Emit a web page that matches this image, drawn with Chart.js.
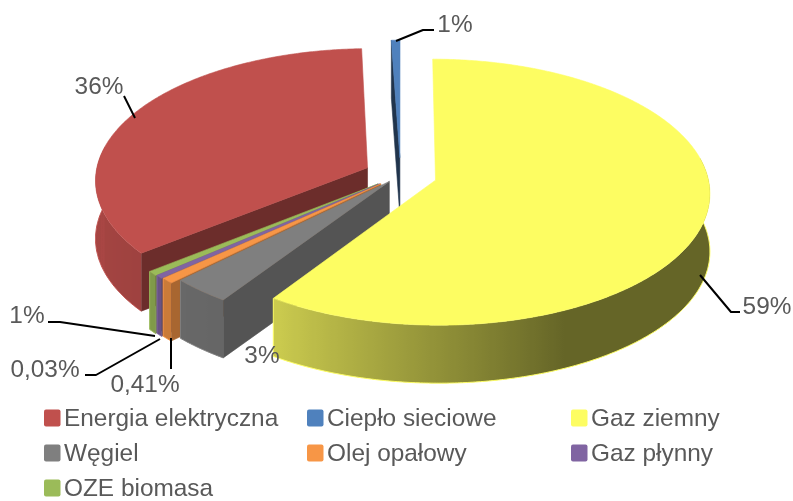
<!DOCTYPE html>
<html><head><meta charset="utf-8">
<style>html,body{margin:0;padding:0;background:#fff;overflow:hidden}#w{width:793px;height:501px}</style>
<script src="https://cdn.jsdelivr.net/npm/chart.js@4/dist/chart.umd.min.js"></script>
</head><body><div id="w"><canvas id="c" width="793" height="501"></canvas></div>
<script>
const categories = ['Energia elektryczna','Ciepło sieciowe','Gaz ziemny','Węgiel','Olej opałowy','Gaz płynny','OZE biomasa'];
const shares = [36, 1, 59, 3, 0.41, 0.03, 1];
const valueLabels = ['36%','1%','59%','3%','0,41%','0,03%','1%'];
const sliceColors = ['#C0504D','#4F81BD','#FDFD62','#7F7F7F','#F79646','#8064A2','#9BBB59'];
const explodePx = [31.5, 31.5, 31.5, 15, 23, 24, 25];
const cutShade = [0.56, 0.4, 0.6, 0.66, 0.68, 0.62, 0.7];
const paintOrder = [0, 1, 6, 5, 4, 3, 2];
// Drawn sweep differs a little from the pure share, as in the source 3-D render (tiny slices stay visible).
const sweepNudgeDeg = [-2.53, -1.58, 2.53, 0.75, 1.03, 1.39, -1.59];
const view = {cx:400.5, cy:175, rx:272, ry:131, persp:0.09, depth:58};
const labelBoxes = [[99,87],[455,25],[767,307],[262,356],[145,385],[45,370],[27,316]];
const leaders = [[[124,96],[135,118]],[[396,41],[423,30],[434,30]],[[700,275],[731,312],[740,312]],null,[[171,369],[171,338]],[[85,375],[96,375],[160,339]],[[48,322],[60,322],[155,336]]];
const legendCols = [44,307,571], legendRows = [418,453,488];
const font = '24.4px "Liberation Sans", Arial, sans-serif';

function rgb(hex,f){const n=parseInt(hex.slice(1),16);return `rgb(${Math.round((n>>16&255)*f)},${Math.round((n>>8&255)*f)},${Math.round((n&255)*f)})`;}
function project(x,y,z){const s=1/(1-view.persp*y);return [view.cx+view.rx*x*s, view.cy+view.ry*y*s+z*view.depth];}
function wallShade(deg){
  if(deg<155) return 0.4;
  if(deg<213) return 0.4+(deg-155)/58*0.4;
  if(deg<270) return 0.8+(deg-213)/57*0.08;
  return 0.88;
}
function poly(ctx,pts,fill,stroke,lw){ctx.beginPath();pts.forEach((p,i)=>i?ctx.lineTo(p[0],p[1]):ctx.moveTo(p[0],p[1]));ctx.closePath();ctx.fillStyle=fill;ctx.fill();ctx.strokeStyle=stroke||fill;ctx.lineWidth=lw||0.6;ctx.stroke();}
function sweeps(arcs){
  // start from the third slice, whose library start angle sits at twelve o'clock
  const out=[];let cur=arcs[2].startAngle;
  for(let j=0;j<arcs.length;j++){
    const i=(j+2)%arcs.length, sw=arcs[i].endAngle-arcs[i].startAngle+sweepNudgeDeg[i]*Math.PI/180;
    out[i]=[cur,cur+sw];cur+=sw;
  }
  return out;
}
const deg360=t=>((t+Math.PI/2)*180/Math.PI%360+360)%360;

const pie3d = {
  id:'pie3d',
  beforeDatasetDraw(){return false;},
  afterDatasetsDraw(chart){
    const ctx=chart.ctx, arcs=chart.getDatasetMeta(0).data, ang=sweeps(arcs);
    ctx.save();
    paintOrder.forEach(i=>{
      const a=arcs[i], col=a.options.backgroundColor, e=a.options.offset/a.outerRadius;
      const [t0,t1]=ang[i], mid=(t0+t1)/2, ox=e*Math.cos(mid), oy=e*Math.sin(mid);
      const n=Math.max(2,Math.ceil((t1-t0)*180/Math.PI*2));
      const rim=[];
      for(let k=0;k<=n;k++){const t=t0+(t1-t0)*k/n;rim.push([ox+Math.cos(t),oy+Math.sin(t),deg360(t)]);}
      const topPts=rim.map(p=>project(p[0],p[1],0)), botPts=rim.map(p=>project(p[0],p[1],1));
      const apexT=project(ox,oy,0), apexB=project(ox,oy,1);
      const cut=rgb(col,cutShade[i]);
      if(Math.cos(t0)<-1e-3) poly(ctx,[apexT,topPts[0],botPts[0],apexB],cut);
      if(Math.cos(t1)>1e-3) poly(ctx,[apexT,topPts[n],botPts[n],apexB],cut);
      // outer wall: only the part facing the viewer, with a left-to-right shading ramp
      const front=[];rim.forEach((p,k)=>{if(p[2]>=80&&p[2]<=280)front.push(k);});
      if(front.length>1){
        const xs=front.map(k=>topPts[k][0]), minX=Math.min(...xs), maxX=Math.max(...xs);
        const g=ctx.createLinearGradient(minX,0,maxX,0);
        front.forEach(k=>g.addColorStop((topPts[k][0]-minX)/(maxX-minX||1),rgb(col,wallShade(rim[k][2]))));
        poly(ctx,[...front.map(k=>topPts[k]),...front.slice().reverse().map(k=>botPts[k])],g,'rgba(0,0,0,0)',0);
        ctx.beginPath();
        front.forEach((k,j)=>j?ctx.lineTo(botPts[k][0],botPts[k][1]):ctx.moveTo(botPts[k][0],botPts[k][1]));
        const last=front[front.length-1];
        if(last===n) ctx.lineTo(topPts[last][0],topPts[last][1]);
        ctx.strokeStyle=col;ctx.lineWidth=1;ctx.stroke();
      }
      poly(ctx,[apexT,...topPts],col);
    });
    ctx.strokeStyle='#000';ctx.lineWidth=2;ctx.lineJoin='round';
    leaders.forEach(l=>{if(!l)return;ctx.beginPath();l.forEach((p,k)=>k?ctx.lineTo(p[0],p[1]):ctx.moveTo(p[0],p[1]));ctx.stroke();});
    ctx.font=font;ctx.fillStyle='#595959';ctx.textAlign='center';ctx.textBaseline='middle';
    valueLabels.forEach((t,i)=>ctx.fillText(t,labelBoxes[i][0],labelBoxes[i][1]));
    ctx.textAlign='left';
    categories.forEach((t,i)=>{
      const x=legendCols[i%3], y=legendRows[Math.floor(i/3)];
      ctx.beginPath();ctx.roundRect(x,y-8.5,16.5,17,2);ctx.fillStyle=sliceColors[i];ctx.fill();
      ctx.fillStyle='#595959';ctx.fillText(t,x+20,y+1);
    });
    ctx.restore();
  }
};

new Chart(document.getElementById('c'),{
  type:'pie',
  data:{labels:categories,datasets:[{data:shares,backgroundColor:sliceColors,offset:explodePx,borderWidth:0,hoverOffset:0}]},
  options:{responsive:false,animation:false,rotation:227.4,events:[],
    plugins:{legend:{display:false},tooltip:{enabled:false}}},
  plugins:[pie3d]
});
</script></body></html>
